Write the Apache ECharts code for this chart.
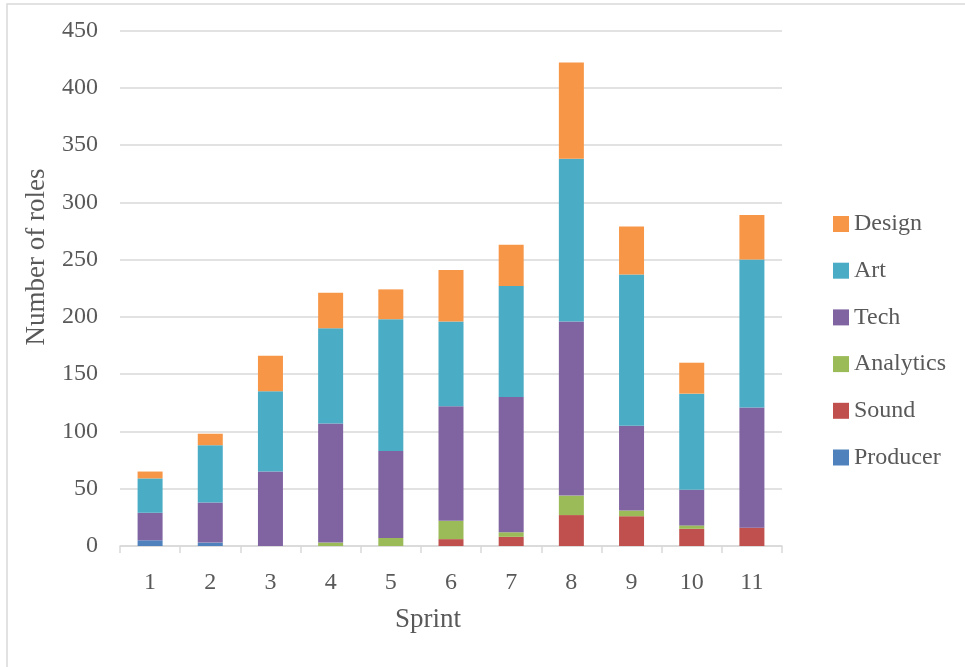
<!DOCTYPE html>
<html>
<head>
<meta charset="utf-8">
<script src="https://cdn.jsdelivr.net/npm/echarts@6/dist/echarts.min.js"></script>
<style>
  html, body { margin: 0; padding: 0; background: #ffffff; }
  #chart { width: 965px; height: 667px; }
</style>
</head>
<body>
<div id="chart"></div>
<script>
// Roles per sprint, stacked by discipline
const sprints = ['1', '2', '3', '4', '5', '6', '7', '8', '9', '10', '11'];
const producer  = [5, 3, 0, 0, 0, 0, 0, 0, 0, 0, 0];
const sound     = [0, 0, 0, 0, 0, 6, 8, 27, 26, 15, 16];
const analytics = [0, 0, 0, 3, 7, 16, 4, 17, 5, 3, 0];
const tech      = [24, 35, 65, 104, 76, 100, 118, 152, 74, 31, 105];
const art       = [30, 50, 70, 83, 115, 74, 97, 142, 132, 84, 129];
const design    = [6, 10, 31, 31, 26, 45, 36, 84, 42, 27, 39];

const yTicks = { min: 0, max: 450, step: 50 };

const FONT = '"Liberation Serif", "DejaVu Serif", serif';
const TEXT = '#595959';
const LINE = '#d9d9d9';

const seriesDefs = [
  { name: 'Producer',  data: producer,  color: '#4F81BD' },
  { name: 'Sound',     data: sound,     color: '#C0504D' },
  { name: 'Analytics', data: analytics, color: '#9BBB59' },
  { name: 'Tech',      data: tech,      color: '#8064A2' },
  { name: 'Art',       data: art,       color: '#4BACC6' },
  { name: 'Design',    data: design,    color: '#F79646' }
];

const chart = echarts.init(document.getElementById('chart'), null, { renderer: 'canvas' });

chart.setOption({
  animation: false,
  backgroundColor: '#ffffff',
  textStyle: { fontFamily: FONT },
  grid: { left: 120, right: 183, top: 30.5, bottom: 121, containLabel: false },
  legend: {
    orient: 'vertical',
    left: 828,
    top: 207,
    itemWidth: 16,
    itemHeight: 16,
    itemGap: 22.7,
    icon: 'rect',
    data: ['Design', 'Art', 'Tech', 'Analytics', 'Sound', 'Producer'],
    textStyle: { fontFamily: FONT, fontSize: 24, color: TEXT },
    selectedMode: false
  },
  xAxis: {
    type: 'category',
    data: sprints,
    boundaryGap: true,
    axisLine: { show: true, lineStyle: { color: LINE, width: 1.5 } },
    axisTick: { show: true, length: 7, lineStyle: { color: LINE, width: 1.5 } },
    axisLabel: { color: TEXT, fontFamily: FONT, fontSize: 24, margin: 25 },
    splitLine: { show: false }
  },
  yAxis: {
    type: 'value',
    min: yTicks.min,
    max: yTicks.max,
    interval: yTicks.step,
    axisLine: { show: false },
    axisTick: { show: false },
    axisLabel: { color: TEXT, fontFamily: FONT, fontSize: 24, margin: 22 },
    splitLine: { show: true, lineStyle: { color: LINE, width: 1.5 } }
  },
  graphic: [
    {
      type: 'rect',
      shape: { x: 7, y: 4, width: 1000, height: 700 },
      style: { fill: 'none', stroke: LINE, lineWidth: 1.5 },
      silent: true,
      z: -10
    },
    {
      type: 'text',
      x: 37, y: 257,
      rotation: Math.PI / 2,
      style: {
        text: 'Number of roles',
        fontFamily: FONT, fontSize: 27, fill: TEXT,
        textAlign: 'center', textVerticalAlign: 'middle'
      }
    },
    {
      type: 'text',
      x: 428, y: 620,
      style: {
        text: 'Sprint',
        fontFamily: FONT, fontSize: 27, fill: TEXT,
        textAlign: 'center', textVerticalAlign: 'middle'
      }
    }
  ],
  series: seriesDefs.map(s => ({
    name: s.name,
    type: 'bar',
    stack: 'roles',
    barWidth: 25,
    data: s.data,
    itemStyle: { color: s.color },
    emphasis: { disabled: true }
  }))
});
</script>
</body>
</html>
